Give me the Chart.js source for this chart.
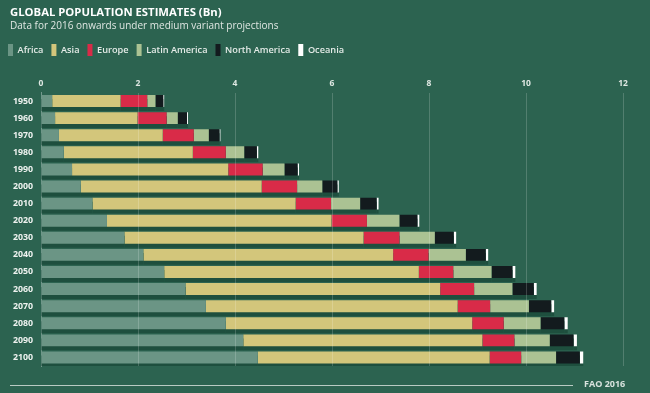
<!DOCTYPE html>
<html>
<head>
<meta charset="utf-8">
<script src="https://cdn.jsdelivr.net/npm/chart.js@4"></script>
<style>
  html, body { margin: 0; padding: 0; background: #2c6350; }
  #wrap { position: relative; width: 650px; height: 393px; font-family: "Open Sans", sans-serif; }
  #title { position: absolute; left: 10px; top: 4px; color: #ffffff; font-size: 11.3px; font-weight: 700; }
  #sub { position: absolute; left: 10px; top: 18px; color: #dfe7e2; font-size: 10px; }
  #foot { position: absolute; left: 584px; top: 377px; color: #d9e3de; font-size: 9px; font-weight: 700; }
  #rule { position: absolute; left: 10px; top: 385px; width: 563px; height: 1px; background: #b9cbc3; }
  canvas { position: absolute; left: 0; top: 0; }
</style>
</head>
<body>
<div id="wrap">
  <canvas id="myChart" width="650" height="393"></canvas>
  <div id="title">GLOBAL POPULATION ESTIMATES (Bn)</div>
  <div id="sub">Data for 2016 onwards under medium variant projections</div>
  <div id="rule"></div>
  <div id="foot">FAO 2016</div>
</div>
<script>
var years = ["1950", "1960", "1970", "1980", "1990", "2000", "2010", "2020",
  "2030", "2040", "2050", "2060", "2070", "2080", "2090", "2100"];
var africa = [0.23, 0.29, 0.37, 0.47, 0.64, 0.82, 1.06, 1.36, 1.72, 2.11, 2.54, 2.98, 3.40, 3.81, 4.17, 4.47];
var asia = [1.41, 1.70, 2.14, 2.66, 3.22, 3.73, 4.19, 4.63, 4.93, 5.15, 5.25, 5.25, 5.19, 5.08, 4.93, 4.78];
var europe = [0.55, 0.60, 0.64, 0.68, 0.71, 0.73, 0.73, 0.73, 0.74, 0.73, 0.71, 0.70, 0.67, 0.65, 0.66, 0.65];
var latinAmerica = [0.17, 0.23, 0.31, 0.38, 0.45, 0.52, 0.60, 0.67, 0.73, 0.77, 0.79, 0.79, 0.80, 0.76, 0.73, 0.72];
var northAmerica = [0.16, 0.19, 0.22, 0.26, 0.27, 0.31, 0.34, 0.37, 0.39, 0.41, 0.43, 0.44, 0.46, 0.49, 0.49, 0.49];
var oceania = [0.02, 0.02, 0.02, 0.03, 0.03, 0.03, 0.04, 0.04, 0.05, 0.05, 0.06, 0.06, 0.06, 0.07, 0.07, 0.07];

var seriesNames = ["Africa", "Asia", "Europe", "Latin America", "North America", "Oceania"];
var seriesData = [africa, asia, europe, latinAmerica, northAmerica, oceania];
var seriesColors = ["#6b9585", "#d3c67b", "#d92b48", "#abc293", "#131b1e", "#ffffff"];

// dark strip under each bar
var barShadow = {
  id: "barShadow",
  beforeDatasetsDraw: function (chart) {
    var ctx = chart.ctx;
    ctx.save();
    ctx.shadowColor = "#1e4f3e";
    ctx.shadowOffsetY = 4;
    ctx.shadowBlur = 0;
  },
  afterDatasetsDraw: function (chart) {
    chart.ctx.restore();
  }
};

new Chart("myChart", {
  type: "bar",
  data: {
    labels: years,
    datasets: seriesNames.map(function (name, i) {
      return {
        label: name,
        data: seriesData[i],
        backgroundColor: seriesColors[i],
        borderWidth: 0,
        barPercentage: 0.7,
        categoryPercentage: 1.0
      };
    })
  },
  options: {
    indexAxis: "y",
    responsive: false,
    animation: false,
    layout: { padding: { top: 36, right: 27, bottom: 27, left: 0 } },
    plugins: {
      legend: {
        position: "top",
        align: "start",
        labels: {
          boxWidth: 5,
          boxHeight: 12,
          padding: 8,
          color: "#e4ebe7",
          font: { family: "Open Sans", size: 9.2, weight: "600" }
        }
      },
      tooltip: { enabled: false }
    },
    scales: {
      x: {
        position: "top",
        stacked: true,
        min: 0,
        max: 12,
        afterFit: function (s) { s.height = 26.5; },
        border: { display: false },
        grid: {
          z: 1,
          drawTicks: false,
          color: function (c) { return c.tick.value === 0 ? "rgba(0,0,0,0)" : "rgba(255,255,255,0.18)"; }
        },
        ticks: {
          stepSize: 2,
          padding: 4,
          color: "#dfe8e3",
          font: { family: "Open Sans", size: 8.5, weight: "700" }
        }
      },
      y: {
        stacked: true,
        afterFit: function (s) { s.width = 41; },
        border: { display: true, color: "rgba(255,255,255,0.35)", width: 1 },
        grid: { display: false, drawTicks: false },
        ticks: {
          padding: 8,
          color: "#eef2ef",
          font: { family: "Open Sans", size: 8.8, weight: "700" }
        }
      }
    }
  },
  plugins: [barShadow]
});
</script>
</body>
</html>
